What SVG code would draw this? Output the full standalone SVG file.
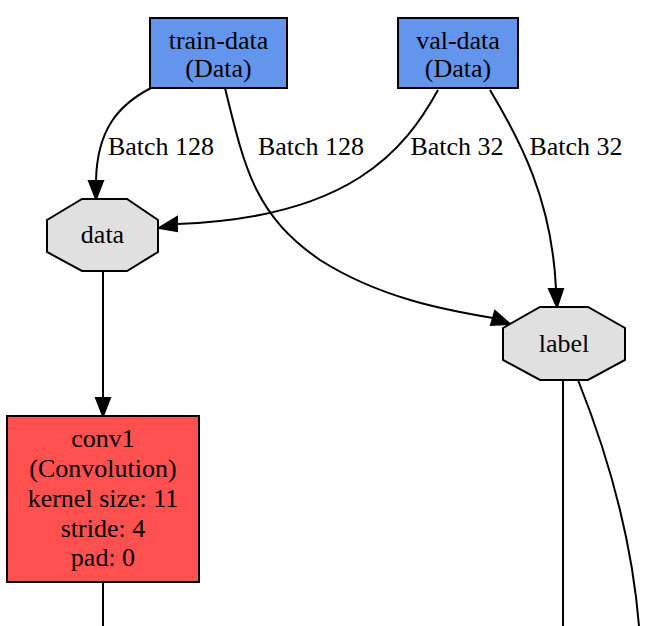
<svg xmlns="http://www.w3.org/2000/svg" width="658" height="626" viewBox="0 0 658 626">
<defs>
<style>
text{font-family:"Liberation Serif","Times New Roman",serif;font-size:26px;fill:#000;text-anchor:middle}
.box{stroke:#000;stroke-width:2}
.data{fill:#6495ED}
.blob{fill:#E0E0E0}
.conv{fill:#FF5050}
.edge{fill:none;stroke:#000;stroke-width:2}
.head{fill:#000;stroke:#000;stroke-width:2}
</style>
</defs>
<rect width="658" height="626" fill="#fff"/>
<g id="connectors">
<path class="edge" d="M151,88 C118,105 97,130 96,181"/>
<polygon class="head" points="89,181 103,181 96,199"/>
<text x="161" y="155">Batch 128</text>
<path class="edge" d="M225,88 C245,170 255,215 320,260 C380,298 445,310 493,318"/>
<polygon class="head" points="495,311 491,325 510,324"/>
<text x="311" y="155">Batch 128</text>
<path class="edge" d="M438,90 C405,150 350,218 177,224"/>
<polygon class="head" points="177,217 177,231 159,228"/>
<text x="457" y="155">Batch 32</text>
<path class="edge" d="M490,90 C520,140 552,200 556,289"/>
<polygon class="head" points="549,289 563,289 557,307"/>
<text x="576" y="155">Batch 32</text>
<path class="edge" d="M103,271 L103,398"/>
<polygon class="head" points="96,398 110,398 103,416"/>
<path class="edge" d="M103,582 L103,626"/>
<path class="edge" d="M563,380 L563,626"/>
<path class="edge" d="M578,380 C610,460 632,540 639,626"/>
</g>
<g id="train-data">
<rect class="box data" x="150" y="18" width="137" height="70"/>
<text x="218.5" y="49">train-data</text>
<text x="218.5" y="77">(Data)</text>
</g>
<g id="val-data">
<rect class="box data" x="398" y="18" width="120" height="70"/>
<text x="458" y="49">val-data</text>
<text x="458" y="77">(Data)</text>
</g>
<g id="data">
<polygon class="box blob" points="82,199 127,199 158,220 158,252 127,271 82,271 47,252 47,220"/>
<text x="102.5" y="243">data</text>
</g>
<g id="label">
<polygon class="box blob" points="540,307 588,307 625,328 625,360 588,380 540,380 503,360 503,328"/>
<text x="564" y="352">label</text>
</g>
<g id="conv1">
<rect class="box conv" x="7" y="416" width="192" height="166"/>
<text x="103" y="447">conv1</text>
<text x="103" y="477">(Convolution)</text>
<text x="103" y="507">kernel size: 11</text>
<text x="103" y="537">stride: 4</text>
<text x="103" y="566">pad: 0</text>
</g>
</svg>
